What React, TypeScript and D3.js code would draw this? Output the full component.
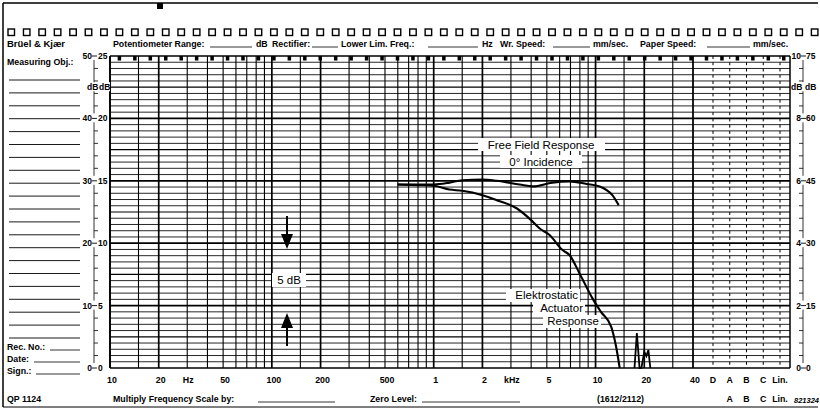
import * as d3 from "d3";
import React from "react";

// frequency grid (multipliers inside each decade)
const decadeSteps = [1, 1.5, 2, 3, 4, 5, 6, 7, 8, 9];
const decades = [10, 100, 1000, 10000];
const freqTicks = [10, 20, 50, 100, 200, 500, 1000, 2000, 5000, 10000, 20000, 40000];
const freqTickLabels = ["10", "20", "50", "100", "200", "500", "1", "2", "5", "10", "20", "40"];
const weightings = ["D", "A", "B", "C", "Lin."];

// level scales (left 50/25 dB, right 10/75 dB)
const leftOuter = ["50", "40", "30", "20", "10", "0"];
const leftInner = ["25", "20", "15", "10", "5", "0"];
const rightOuter = ["10", "8", "6", "4", "2", "0"];
const rightInner = ["75", "60", "45", "30", "15", "0"];
const majorLevels = [50, 40, 30, 20, 10, 0];

// Free Field Response, 0° incidence
const freeFieldFreq = [600, 800, 1000, 1250, 1500, 2000, 2450, 3400, 4100, 5400, 6900, 8800, 10600, 12700, 13900];
const freeFieldLevel = [29.4, 29.4, 29.4, 29.7, 30.1, 30.2, 30.0, 29.4, 29.1, 29.7, 29.9, 29.5, 29.1, 27.7, 26.1];

// Elektrostatic Actuator Response
const actuatorFreq = [600, 800, 1000, 1250, 1500, 2000, 2450, 3250, 4000, 4500, 5200, 6250, 6900, 7950, 9550, 10800, 12500, 13400, 14100];
const actuatorLevel = [29.4, 29.3, 29.2, 28.6, 28.4, 27.7, 26.9, 25.6, 23.7, 22.4, 21.3, 18.9, 18.1, 15.2, 11.2, 9.0, 6.6, 3.4, 0];

// stray pen marks near 20 kHz
const spikeFreq = [17400, 18000, 18700, 19200, 20000, 20600, 21200, 21800];
const spikeLevel = [0, 5.6, 0, 0, 2.6, 1.9, 2.9, 0];

const W = 820;
const H = 410;
const plot = { left: 110, right: 790, top: 56, bottom: 368 };
const font = "'Liberation Sans', Arial, sans-serif";

export default function App() {
  const x = d3.scaleLog().domain([10, 40000]).range([plot.left, 693]);
  const y = d3.scaleLinear().domain([0, 50]).range([plot.bottom, plot.top]);
  const wx = d3.scalePoint<string>().domain(weightings).range([713, 780]);

  const gridFreqs: number[] = [];
  decades.forEach((d) => decadeSteps.forEach((m) => {
    const f = d * m;
    if (f <= 40000) gridFreqs.push(f);
  }));

  const line = d3
    .line<[number, number]>()
    .x((d) => x(d[0]))
    .y((d) => y(d[1]))
    .curve(d3.curveMonotoneX);

  const ff = freeFieldFreq.map((f, i) => [f, freeFieldLevel[i]] as [number, number]);
  const act = actuatorFreq.map((f, i) => [f, actuatorLevel[i]] as [number, number]);
  const spk = spikeFreq.map((f, i) => [f, spikeLevel[i]] as [number, number]);
  const spikeLine = d3.line<[number, number]>().x((d) => x(d[0])).y((d) => y(d[1]));

  const holes = d3.range(53).map((i) => 8 + i * 15.45);
  const levels = d3.range(0, 51);
  const scaleTicks = d3.range(0, 51, 2);
  const formLines = d3.range(21).map((i) => 80 + i * 12.9);

  const bold = { fontFamily: font, fontWeight: 700, fontSize: 8.8 } as const;

  return (
    <svg width={W} height={H} style={{ position: "absolute", left: 0, top: 0, background: "#fff" }}>
      {/* paper frame */}
      <line x1={3} x2={818} y1={3} y2={3} stroke="#000" strokeWidth={1.5} />
      <line x1={3} x2={3} y1={3} y2={407} stroke="#000" strokeWidth={1.5} />
      <line x1={3} x2={818} y1={407} y2={407} stroke="#000" strokeWidth={1} />
      <rect x={157} y={3} width={6} height={6} fill="#000" />

      {/* sprocket holes */}
      {holes.map((hx, i) => (
        <rect key={i} x={hx} y={29} width={6.5} height={6.5} fill="none" stroke="#000" strokeWidth={1.4} />
      ))}

      {/* header */}
      <g style={bold} fill="#000">
        <text x={7} y={47} style={{ fontSize: 9.5 }}>Brüel &amp; Kjær</text>
        <text x={113} y={47}>Potentiometer Range:</text>
        <text x={256} y={47}>dB</text>
        <text x={272} y={47}>Rectifier:</text>
        <text x={341} y={47}>Lower Lim. Freq.:</text>
        <text x={482} y={47}>Hz</text>
        <text x={500} y={47}>Wr. Speed:</text>
        <text x={593} y={47}>mm/sec.</text>
        <text x={640} y={47}>Paper Speed:</text>
        <text x={753} y={47}>mm/sec.</text>
        <text x={7} y={65}>Measuring Obj.:</text>
      </g>
      <g stroke="#000" strokeWidth={0.8}>
        <line x1={210} x2={252} y1={47} y2={47} />
        <line x1={312} x2={338} y1={47} y2={47} />
        <line x1={428} x2={478} y1={47} y2={47} />
        <line x1={553} x2={590} y1={47} y2={47} />
        <line x1={707} x2={750} y1={47} y2={47} />
      </g>

      {/* form lines on the left */}
      {formLines.map((ly, i) => (
        <line key={i} x1={9} x2={80} y1={ly} y2={ly} stroke="#000" strokeWidth={0.9} />
      ))}
      <g style={bold} fill="#000">
        <text x={7} y={350}>Rec. No.:</text>
        <text x={7} y={362}>Date:</text>
        <text x={7} y={374}>Sign.:</text>
      </g>
      <g stroke="#000" strokeWidth={0.8}>
        <line x1={50} x2={80} y1={350} y2={350} />
        <line x1={34} x2={80} y1={362} y2={362} />
        <line x1={36} x2={80} y1={374} y2={374} />
      </g>

      {/* horizontal grid */}
      {levels.map((l) => (
        <line
          key={l}
          x1={plot.left}
          x2={plot.right}
          y1={y(l)}
          y2={y(l)}
          stroke="#000"
          strokeWidth={l % 10 === 0 ? 1.7 : l % 5 === 0 ? 1.2 : 0.85}
        />
      ))}

      {/* vertical frequency grid */}
      {gridFreqs.map((f) => {
        const m = f / Math.pow(10, Math.floor(Math.log10(f) + 1e-9));
        const heavy = Math.abs(m - 1) < 1e-6 || Math.abs(m - 2) < 1e-6;
        return (
          <line key={f} x1={x(f)} x2={x(f)} y1={plot.top} y2={plot.bottom} stroke="#000" strokeWidth={heavy ? 1.7 : 1.1} />
        );
      })}
      <line x1={x(40000)} x2={x(40000)} y1={plot.top} y2={plot.bottom} stroke="#000" strokeWidth={1.5} />

      {/* weighting columns */}
      {weightings.map((w) => (
        <line
          key={w}
          x1={wx(w)}
          x2={wx(w)}
          y1={plot.top}
          y2={plot.bottom}
          stroke="#000"
          strokeWidth={1}
          strokeDasharray="3,3.24"
        />
      ))}
      <line x1={plot.right} x2={plot.right} y1={plot.top} y2={plot.bottom} stroke="#000" strokeWidth={1.5} />
      <line x1={plot.left} x2={plot.left} y1={plot.top} y2={plot.bottom} stroke="#000" strokeWidth={1.5} />

      {/* top edge markers */}
      {holes
        .filter((hx) => hx + 3 > plot.left && hx + 3 < plot.right)
        .map((hx, i) => (
          <rect key={i} x={hx + 1.5} y={plot.top} width={3.5} height={4.5} fill="#000" />
        ))}

      {/* left level scale */}
      <line x1={94} x2={94} y1={plot.top} y2={plot.bottom} stroke="#000" strokeWidth={0.8} />
      {scaleTicks.map((t) => (
        <line key={t} x1={94} x2={98} y1={y(t)} y2={y(t)} stroke="#000" strokeWidth={0.8} />
      ))}
      <g style={{ fontFamily: font, fontWeight: 700, fontSize: 8.5 }} fill="#000">
        {majorLevels.map((l, i) => (
          <React.Fragment key={l}>
            <rect x={82} y={y(l) - 5} width={27} height={9} fill="#fff" />
            <text x={92} y={y(l) + 3} textAnchor="end">{leftOuter[i]}</text>
            <line x1={92} x2={97} y1={y(l)} y2={y(l)} stroke="#000" strokeWidth={0.9} />
            <text x={98} y={y(l) + 3}>{leftInner[i]}</text>
          </React.Fragment>
        ))}
        <rect x={86} y={y(45) - 5} width={24} height={9} fill="#fff" />
        <text x={87} y={y(45) + 3}>dB</text>
        <text x={99} y={y(45) + 3}>dB</text>
      </g>

      {/* right level scale */}
      <line x1={803} x2={803} y1={plot.top} y2={plot.bottom} stroke="#000" strokeWidth={0.8} />
      {scaleTicks.map((t) => (
        <line key={t} x1={799} x2={803} y1={y(t)} y2={y(t)} stroke="#000" strokeWidth={0.8} />
      ))}
      <g style={{ fontFamily: font, fontWeight: 700, fontSize: 8.5 }} fill="#000">
        {majorLevels.map((l, i) => (
          <React.Fragment key={l}>
            <rect x={793} y={y(l) - 5} width={26} height={9} fill="#fff" />
            <text x={801} y={y(l) + 3} textAnchor="end">{rightOuter[i]}</text>
            <line x1={801} x2={806} y1={y(l)} y2={y(l)} stroke="#000" strokeWidth={0.9} />
            <text x={806} y={y(l) + 3}>{rightInner[i]}</text>
          </React.Fragment>
        ))}
        <rect x={791} y={y(45) - 5} width={28} height={9} fill="#fff" />
        <text x={791} y={y(45) + 3}>dB</text>
        <text x={805} y={y(45) + 3}>dB</text>
      </g>

      {/* frequency labels */}
      <g style={{ fontFamily: font, fontWeight: 700, fontSize: 8.8 }} fill="#000" textAnchor="middle">
        {freqTicks.map((f, i) => (
          <text key={f} x={x(f) + 2} y={383}>{freqTickLabels[i]}</text>
        ))}
        <text x={x(30) + 1} y={383}>Hz</text>
        <text x={x(3000) + 1} y={383}>kHz</text>
        {weightings.map((w) => (
          <text key={w} x={wx(w)} y={383}>{w}</text>
        ))}
      </g>

      {/* footer */}
      <g style={bold} fill="#000">
        <text x={7} y={402}>QP 1124</text>
        <text x={113} y={402}>Multiply Frequency Scale by:</text>
        <text x={370} y={402}>Zero Level:</text>
        <text x={597} y={402}>(1612/2112)</text>
        {weightings.slice(1).map((w) => (
          <text key={w} x={wx(w)} y={402} textAnchor="middle">{w}</text>
        ))}
        <text x={794} y={403} style={{ fontStyle: "italic", fontSize: 7.5 }}>821324</text>
      </g>
      <g stroke="#000" strokeWidth={0.8}>
        <line x1={258} x2={335} y1={402} y2={402} />
        <line x1={422} x2={520} y1={402} y2={402} />
      </g>

      {/* curves */}
      <path d={line(ff) ?? ""} fill="none" stroke="#000" strokeWidth={2.1} />
      <path d={line(act) ?? ""} fill="none" stroke="#000" strokeWidth={2.1} />
      <path d={spikeLine(spk) ?? ""} fill="none" stroke="#000" strokeWidth={1.8} />

      {/* annotations */}
      <g style={{ fontFamily: font, fontSize: 11.5 }} fill="#000">
        <rect x={478} y={138} width={127} height={13} fill="#fff" />
        <text x={541} y={149} textAnchor="middle">Free Field Response</text>
        <rect x={500} y={155} width={82} height={13} fill="#fff" />
        <text x={541} y={166} textAnchor="middle">0° Incidence</text>

        <rect x={272} y={273} width={34} height={14} fill="#fff" />
        <text x={289} y={284} textAnchor="middle">5 dB</text>

        <rect x={506} y={289} width={74} height={13} fill="#fff" />
        <text x={578} y={299} textAnchor="end">Elektrostatic</text>
        <rect x={533} y={302} width={52} height={13} fill="#fff" />
        <text x={583} y={312} textAnchor="end">Actuator</text>
        <rect x={543} y={315} width={58} height={13} fill="#fff" />
        <text x={599} y={325} textAnchor="end">Response</text>
      </g>

      {/* 5 dB arrows */}
      <line x1={287} x2={287} y1={216} y2={236} stroke="#000" strokeWidth={2} />
      <path d="M281,234 L293,234 L287,249 Z" fill="#000" />
      <line x1={287} x2={287} y1={326} y2={346} stroke="#000" strokeWidth={2} />
      <path d="M281,328 L293,328 L287,313 Z" fill="#000" />
    </svg>
  );
}
